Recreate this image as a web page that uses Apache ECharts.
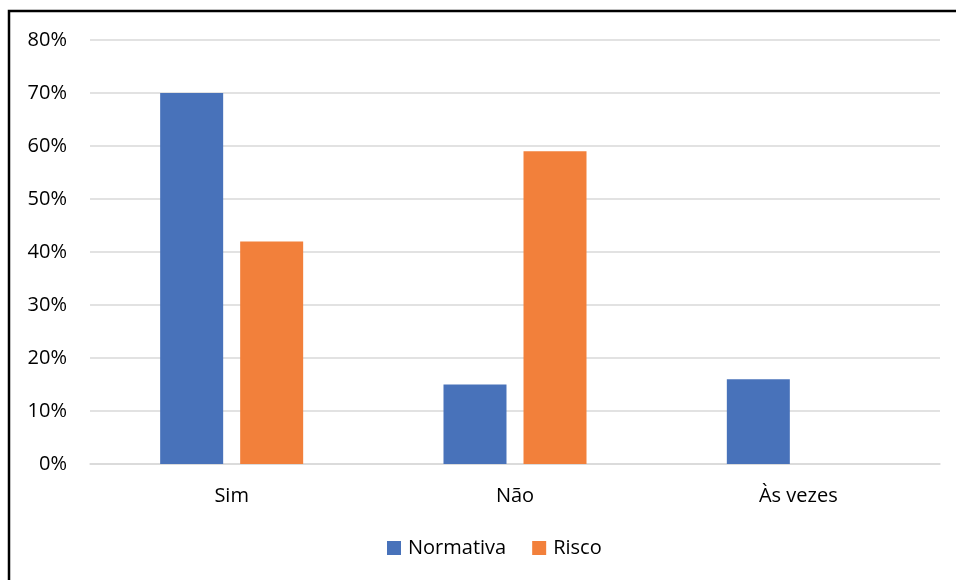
<!DOCTYPE html>
<html>
<head>
<meta charset="utf-8">
<script src="https://cdn.jsdelivr.net/npm/echarts@6/dist/echarts.min.js"></script>
<style>
  html, body { margin: 0; padding: 0; background: #fff; }
  #chart { width: 956px; height: 580px; }
</style>
</head>
<body>
<div id="chart"></div>
<script>
// Categories and series values (percent)
const categories = ['Sim', 'Não', 'Às vezes'];
const normativa = [70, 15, 16];
const risco = [42, 59, 0];
const yTicks = { min: 0, max: 80, interval: 10 };

const font = '"Open Sans", Lato, "Liberation Sans", sans-serif';
const fs = 20;

const chart = echarts.init(document.getElementById('chart'), null, { renderer: 'canvas' });
chart.setOption({
  animation: false,
  backgroundColor: '#ffffff',
  graphic: [{
    type: 'rect',
    shape: { x: 9, y: 11, width: 1000, height: 1000 },
    style: { fill: 'none', stroke: '#000', lineWidth: 2.5 },
    silent: true
  }],
  grid: { left: 90, right: 16, top: 40, bottom: 116, containLabel: false },
  legend: {
    data: ['Normativa', 'Risco'],
    bottom: 17,
    left: 382,
    itemWidth: 14,
    itemHeight: 14,
    itemGap: 26,
    icon: 'rect',
    textStyle: { fontFamily: font, fontSize: fs, color: '#000', padding: [0, 0, 0, 2] }
  },
  xAxis: {
    type: 'category',
    data: categories,
    axisLine: { show: true, lineStyle: { color: '#d9d9d9', width: 1.5 } },
    axisTick: { show: false },
    axisLabel: { fontFamily: font, fontSize: fs, color: '#000', margin: 22 }
  },
  yAxis: {
    type: 'value',
    min: yTicks.min,
    max: yTicks.max,
    interval: yTicks.interval,
    axisLine: { show: false },
    axisTick: { show: false },
    splitLine: { lineStyle: { color: '#d9d9d9', width: 1.5 } },
    axisLabel: { fontFamily: font, fontSize: fs, color: '#000', margin: 23, formatter: '{value}%' }
  },
  series: [
    {
      name: 'Normativa',
      type: 'bar',
      data: normativa,
      barWidth: 63,
      barGap: '27%',
      itemStyle: { color: '#4872BA' }
    },
    {
      name: 'Risco',
      type: 'bar',
      data: risco,
      barWidth: 63,
      barGap: '27%',
      itemStyle: { color: '#F2803B' }
    }
  ]
});
</script>
</body>
</html>
